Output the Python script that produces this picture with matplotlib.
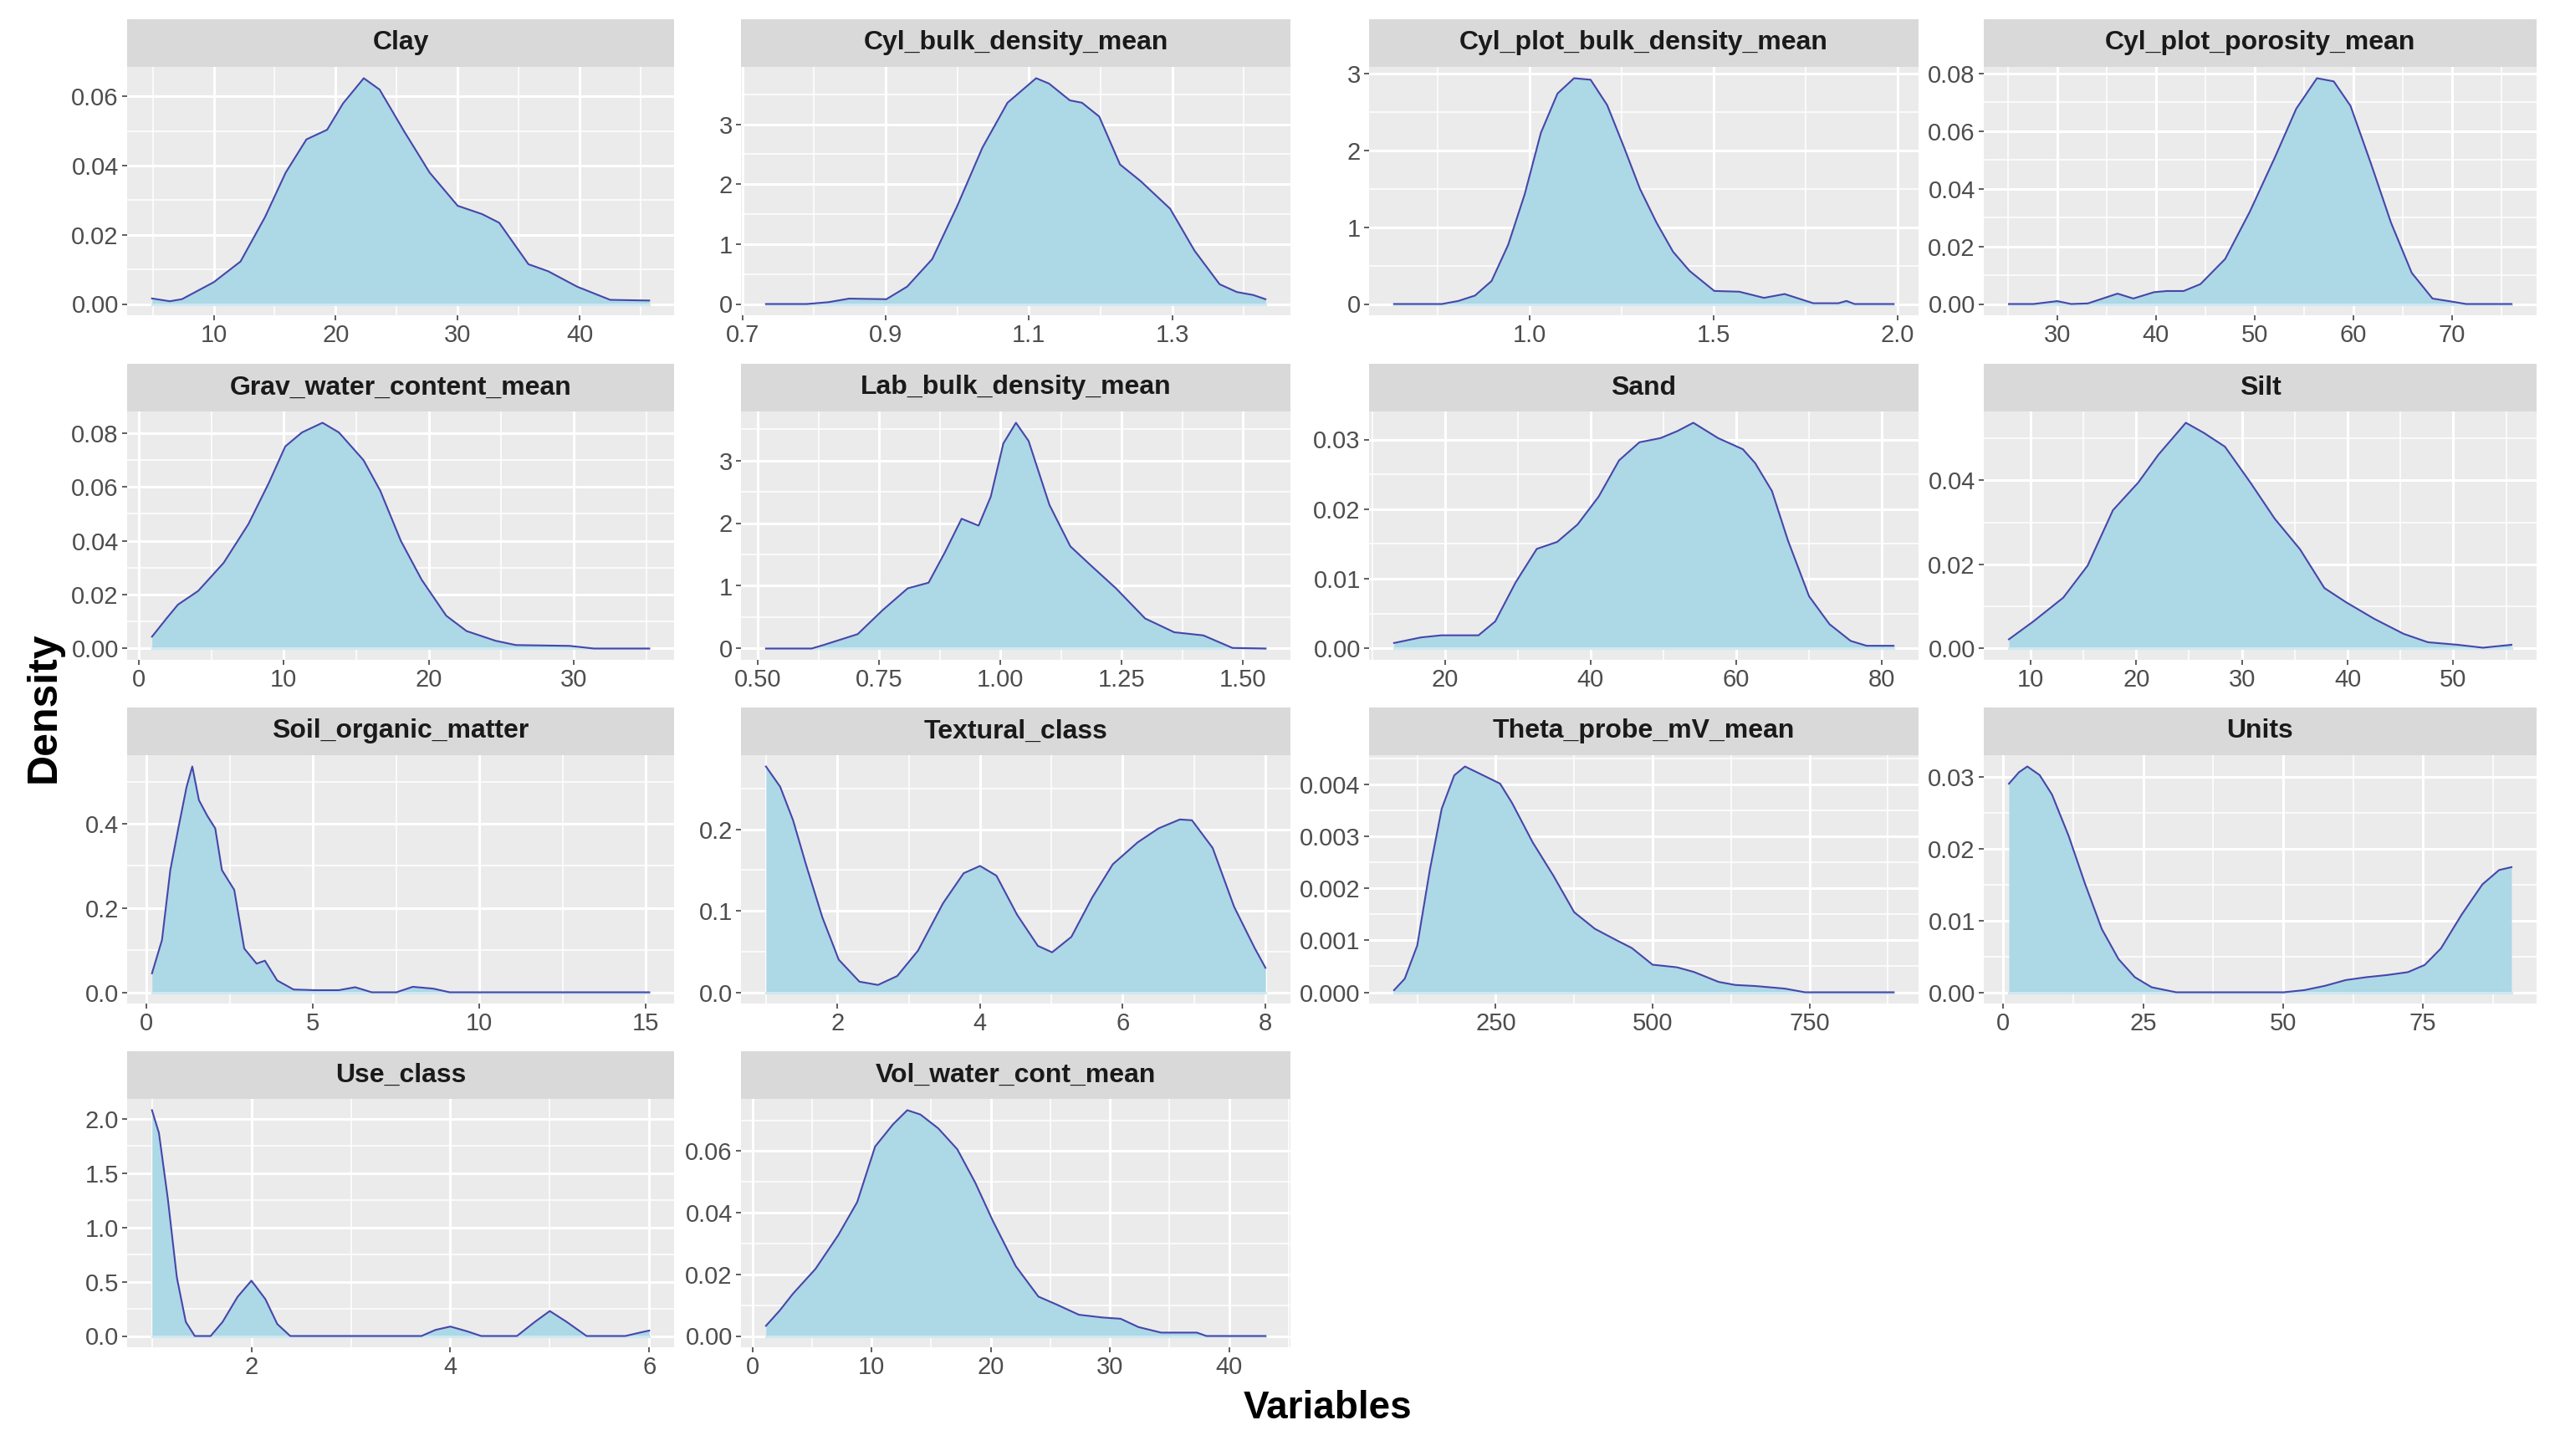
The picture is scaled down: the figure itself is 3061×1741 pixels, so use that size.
import numpy as np
import matplotlib.pyplot as plt

plt.rcParams['font.family'] = ['Liberation Sans', 'DejaVu Sans']

# --- density curves (x, density) ---
clay_x = [4.94, 6.4, 7.4, 10.0, 12.2, 14.2, 15.9, 17.6, 19.3, 20.6, 22.3, 23.6, 25.6, 27.7,
          30.0, 32.0, 33.4, 35.8, 37.4, 39.8, 42.5, 45.7]
clay_y = [0.0016, 0.0008, 0.0014, 0.0063, 0.0123, 0.0251, 0.038, 0.0476, 0.0504, 0.058, 0.0653,
          0.062, 0.050, 0.038, 0.0284, 0.026, 0.0235, 0.0115, 0.0095, 0.005, 0.0012, 0.001]

cylbd_x = [0.733, 0.79, 0.82, 0.849, 0.901, 0.930, 0.965, 1.0, 1.035, 1.07, 1.110, 1.128, 1.157,
           1.174, 1.198, 1.227, 1.256, 1.297, 1.331, 1.366, 1.39, 1.413, 1.430]
cylbd_y = [0.0, 0.0, 0.03, 0.09, 0.08, 0.29, 0.75, 1.64, 2.61, 3.36, 3.77, 3.68, 3.40, 3.36, 3.13,
           2.33, 2.05, 1.59, 0.89, 0.33, 0.20, 0.15, 0.08]

cylpbd_x = [0.632, 0.762, 0.807, 0.852, 0.897, 0.942, 0.987, 1.031, 1.076, 1.121, 1.166, 1.211,
            1.256, 1.300, 1.345, 1.390, 1.435, 1.502, 1.570, 1.637, 1.693, 1.771, 1.839, 1.861,
            1.883, 1.989]
cylpbd_y = [0.0, 0.0, 0.04, 0.11, 0.30, 0.77, 1.43, 2.23, 2.74, 2.94, 2.92, 2.59, 2.05, 1.50,
            1.06, 0.68, 0.43, 0.17, 0.16, 0.08, 0.13, 0.01, 0.01, 0.04, 0.0, 0.0]

poro_x = [25.1, 27.6, 30.0, 31.4, 33.1, 36.1, 37.7, 39.8, 41.1, 42.8, 44.5, 47.0, 49.5, 52.1,
          54.2, 56.3, 58.0, 59.7, 61.8, 63.8, 65.9, 68.0, 70.2, 71.4, 76.0]
poro_y = [0.0, 0.0, 0.001, 0.0, 0.0002, 0.0036, 0.0019, 0.0041, 0.0045, 0.0045, 0.0069, 0.0156,
          0.032, 0.0513, 0.0677, 0.0783, 0.0772, 0.0687, 0.0484, 0.0282, 0.0108, 0.0019, 0.0007,
          0.0, 0.0]

grav_x = [0.91, 1.9, 2.7, 4.1, 5.85, 7.56, 8.98, 10.1, 11.25, 12.67, 13.8, 15.5, 16.65, 18.07,
          19.5, 21.2, 22.6, 24.6, 26.0, 29.7, 31.4, 33.7, 35.2]
grav_y = [0.0044, 0.0111, 0.0163, 0.0214, 0.0318, 0.0462, 0.0616, 0.0750, 0.0802, 0.0838, 0.0802,
          0.0699, 0.0586, 0.040, 0.0256, 0.0122, 0.0065, 0.0029, 0.0013, 0.0010, 0.0, 0.0, 0.0]

lab_x = [0.517, 0.611, 0.637, 0.706, 0.757, 0.809, 0.852, 0.886, 0.920, 0.955, 0.98, 1.006,
         1.032, 1.058, 1.101, 1.144, 1.187, 1.238, 1.298, 1.358, 1.418, 1.478, 1.546]
lab_y = [0.0, 0.0, 0.06, 0.23, 0.61, 0.96, 1.05, 1.54, 2.07, 1.96, 2.42, 3.27, 3.60, 3.31, 2.29,
         1.63, 1.32, 0.96, 0.48, 0.26, 0.21, 0.01, 0.0]

sand_x = [13.0, 16.7, 19.5, 24.6, 26.9, 29.7, 32.6, 35.4, 38.2, 41.1, 43.9, 46.7, 49.6, 51.9,
          54.1, 57.5, 60.9, 62.6, 64.9, 67.1, 70.0, 72.8, 75.7, 77.9, 81.6]
sand_y = [0.0008, 0.0016, 0.0019, 0.0019, 0.0039, 0.0095, 0.0143, 0.0153, 0.0178, 0.0218, 0.027,
          0.0296, 0.0302, 0.0312, 0.0324, 0.0302, 0.0286, 0.0266, 0.0226, 0.0155, 0.0075, 0.0035,
          0.0011, 0.0004, 0.0004]

silt_x = [7.96, 10.3, 13.1, 15.4, 17.8, 20.2, 22.1, 24.7, 26.4, 28.4, 30.8, 33.1, 35.5, 37.8,
          39.8, 42.5, 45.3, 47.6, 50.4, 52.8, 55.5]
silt_y = [0.0022, 0.0065, 0.0121, 0.0197, 0.0329, 0.0395, 0.0461, 0.0537, 0.0513, 0.048, 0.0395,
          0.0309, 0.0236, 0.0144, 0.0111, 0.0071, 0.0035, 0.0015, 0.0009, 0.0002, 0.0009]

som_x = [0.17, 0.47, 0.72, 0.96, 1.21, 1.38, 1.58, 1.83, 2.07, 2.27, 2.64, 2.94, 3.31, 3.56, 3.93,
         4.42, 5.04, 5.78, 6.27, 6.77, 7.51, 8.0, 8.62, 9.11, 15.1]
som_y = [0.045, 0.124, 0.29, 0.389, 0.488, 0.536, 0.456, 0.419, 0.389, 0.29, 0.243, 0.104, 0.068,
         0.075, 0.028, 0.0066, 0.005, 0.005, 0.012, 0.0, 0.0, 0.013, 0.0086, 0.0, 0.0]

tex_x = [1.0, 1.2, 1.38, 1.56, 1.79, 2.02, 2.31, 2.57, 2.84, 3.13, 3.48, 3.77, 4.0, 4.23, 4.52,
         4.81, 5.01, 5.28, 5.57, 5.86, 6.21, 6.50, 6.80, 6.97, 7.26, 7.56, 7.85, 8.0]
tex_y = [0.277, 0.252, 0.211, 0.157, 0.092, 0.040, 0.013, 0.009, 0.020, 0.051, 0.109, 0.146,
         0.155, 0.143, 0.095, 0.057, 0.049, 0.068, 0.116, 0.157, 0.184, 0.201, 0.212, 0.211,
         0.177, 0.105, 0.054, 0.030]

theta_x = [88, 105, 125, 145, 164, 184, 201, 230, 257, 276, 309, 342, 375, 408, 441, 467, 500,
           539, 566, 605, 632, 664, 711, 743, 884]
theta_y = [0.00004, 0.00026, 0.0009, 0.00235, 0.00353, 0.00417, 0.00434, 0.00417, 0.00401,
           0.00364, 0.00288, 0.00224, 0.00154, 0.00122, 0.00101, 0.00085, 0.00053, 0.00048,
           0.00039, 0.0002, 0.00014, 0.00012, 0.00007, 0.0, 0.0]

units_x = [1.0, 2.8, 4.3, 6.5, 8.7, 11.7, 14.6, 17.6, 20.6, 23.5, 26.5, 30.9, 50.1, 53.8, 57.5,
           61.2, 64.9, 68.6, 72.3, 75.3, 78.2, 81.9, 85.6, 88.6, 90.8]
units_y = [0.029, 0.0306, 0.0314, 0.0302, 0.0275, 0.0217, 0.0151, 0.0088, 0.0046, 0.0021, 0.0007,
           0.0, 0.0, 0.0003, 0.0009, 0.0017, 0.0021, 0.0024, 0.0028, 0.0038, 0.0061, 0.0108,
           0.015, 0.017, 0.0174]

use_x = [1.0, 1.07, 1.16, 1.25, 1.34, 1.43, 1.59, 1.71, 1.86, 2.0, 2.14, 2.26, 2.39, 3.71, 3.85,
         4.0, 4.17, 4.31, 4.67, 4.85, 5.0, 5.17, 5.37, 5.76, 5.9, 6.0]
use_y = [2.08, 1.87, 1.26, 0.54, 0.13, 0.0, 0.0, 0.13, 0.36, 0.51, 0.34, 0.11, 0.0, 0.0, 0.056,
         0.087, 0.043, 0.0, 0.0, 0.13, 0.23, 0.13, 0.0, 0.0, 0.03, 0.05]

vol_x = [1.14, 2.3, 3.4, 5.3, 7.2, 8.8, 10.3, 11.8, 13.0, 14.1, 15.6, 17.2, 18.7, 20.2, 22.1,
         24.0, 25.6, 27.4, 29.4, 30.9, 32.4, 34.3, 37.3, 38.1, 43.06]
vol_y = [0.0033, 0.0083, 0.0137, 0.0218, 0.0327, 0.0435, 0.0615, 0.0687, 0.0733, 0.0719, 0.0674,
         0.0606, 0.0498, 0.0372, 0.0227, 0.0128, 0.0101, 0.0069, 0.006, 0.0056, 0.0029, 0.0011,
         0.0011, 0.0, 0.0]

titles = ["Clay", "Cyl_bulk_density_mean", "Cyl_plot_bulk_density_mean", "Cyl_plot_porosity_mean",
          "Grav_water_content_mean", "Lab_bulk_density_mean", "Sand", "Silt",
          "Soil_organic_matter", "Textural_class", "Theta_probe_mV_mean", "Units",
          "Use_class", "Vol_water_cont_mean"]
xs = [clay_x, cylbd_x, cylpbd_x, poro_x, grav_x, lab_x, sand_x, silt_x,
      som_x, tex_x, theta_x, units_x, use_x, vol_x]
ys = [clay_y, cylbd_y, cylpbd_y, poro_y, grav_y, lab_y, sand_y, silt_y,
      som_y, tex_y, theta_y, units_y, use_y, vol_y]

x_ticks = [[10, 20, 30, 40], [0.7, 0.9, 1.1, 1.3], [1.0, 1.5, 2.0], [30, 40, 50, 60, 70],
           [0, 10, 20, 30], [0.50, 0.75, 1.00, 1.25, 1.50], [20, 40, 60, 80], [10, 20, 30, 40, 50],
           [0, 5, 10, 15], [2, 4, 6, 8], [250, 500, 750], [0, 25, 50, 75],
           [2, 4, 6], [0, 10, 20, 30, 40]]
x_labels = [["10", "20", "30", "40"], ["0.7", "0.9", "1.1", "1.3"], ["1.0", "1.5", "2.0"],
            ["30", "40", "50", "60", "70"], ["0", "10", "20", "30"],
            ["0.50", "0.75", "1.00", "1.25", "1.50"], ["20", "40", "60", "80"],
            ["10", "20", "30", "40", "50"], ["0", "5", "10", "15"], ["2", "4", "6", "8"],
            ["250", "500", "750"], ["0", "25", "50", "75"], ["2", "4", "6"],
            ["0", "10", "20", "30", "40"]]
y_ticks = [[0, 0.02, 0.04, 0.06], [0, 1, 2, 3], [0, 1, 2, 3], [0, 0.02, 0.04, 0.06, 0.08],
           [0, 0.02, 0.04, 0.06, 0.08], [0, 1, 2, 3], [0, 0.01, 0.02, 0.03], [0, 0.02, 0.04],
           [0, 0.2, 0.4], [0, 0.1, 0.2], [0, 0.001, 0.002, 0.003, 0.004], [0, 0.01, 0.02, 0.03],
           [0, 0.5, 1.0, 1.5, 2.0], [0, 0.02, 0.04, 0.06]]
y_labels = [["0.00", "0.02", "0.04", "0.06"], ["0", "1", "2", "3"], ["0", "1", "2", "3"],
            ["0.00", "0.02", "0.04", "0.06", "0.08"], ["0.00", "0.02", "0.04", "0.06", "0.08"],
            ["0", "1", "2", "3"], ["0.00", "0.01", "0.02", "0.03"], ["0.00", "0.02", "0.04"],
            ["0.0", "0.2", "0.4"], ["0.0", "0.1", "0.2"],
            ["0.000", "0.001", "0.002", "0.003", "0.004"], ["0.00", "0.01", "0.02", "0.03"],
            ["0.0", "0.5", "1.0", "1.5", "2.0"], ["0.00", "0.02", "0.04", "0.06"]]

# layout in pixels of the 3061 x 1741 picture
W, H = 3061, 1741
col_px = [(152, 806), (886, 1543), (1637, 2294), (2372, 3033)]
row_top = [23, 435, 846, 1257]
STRIP_H = 57
PANEL_H = 297

fig = plt.figure(figsize=(W / 100, H / 100), dpi=100)


def minor_of(t):
    t = np.asarray(t, float)
    step = t[1] - t[0]
    ext = np.concatenate([[t[0] - step], t, [t[-1] + step]])
    return (ext[:-1] + ext[1:]) / 2


for i, title in enumerate(titles):
    r, c = divmod(i, 4)
    x0, x1 = col_px[c]
    top = row_top[r]
    left = x0 / W
    width = (x1 - x0) / W

    # strip
    sax = fig.add_axes([left, 1 - (top + STRIP_H) / H, width, STRIP_H / H])
    sax.set_facecolor('#D9D9D9')
    sax.set_xticks([])
    sax.set_yticks([])
    for s in sax.spines.values():
        s.set_visible(False)
    sax.text(0.5, 0.5, title, ha='center', va='center', fontsize=23,
             fontweight='bold', color='#1A1A1A', transform=sax.transAxes)

    # panel
    ax = fig.add_axes([left, 1 - (top + STRIP_H + PANEL_H) / H, width, PANEL_H / H])
    ax.set_facecolor('#EBEBEB')
    for s in ax.spines.values():
        s.set_visible(False)

    x = np.array(xs[i])
    y = np.array(ys[i])
    ax.fill_between(x, 0, y, color='#ADD8E6', lw=0, zorder=2)
    ax.plot([x[0], x[-1]], [0, 0], color='#CFE8F1', lw=2.2, zorder=3)
    ax.plot(x, y, color='#4646AA', lw=1.5, zorder=4)

    ax.set_xticks(x_ticks[i])
    ax.set_xticklabels(x_labels[i])
    ax.set_yticks(y_ticks[i])
    ax.set_yticklabels(y_labels[i])
    ax.set_xticks(minor_of(x_ticks[i]), minor=True)
    ax.set_yticks(minor_of(y_ticks[i]), minor=True)

    # ggplot-style 5% expansion, set after the ticks so they do not widen it
    xr = x.max() - x.min()
    ax.set_xlim(x.min() - 0.05 * xr, x.max() + 0.05 * xr)
    ylo = min(0, y.min())
    yr = y.max() - ylo
    ax.set_ylim(ylo - 0.05 * yr, y.max() + 0.05 * yr)

    ax.set_axisbelow(True)
    ax.grid(which='major', color='white', lw=2.2)
    ax.grid(which='minor', color='white', lw=1.1)
    ax.tick_params(which='major', length=4.3, width=1.1, color='#333333',
                   labelsize=21, labelcolor='#4D4D4D', pad=3)
    ax.tick_params(which='minor', length=0)

fig.text(53 / W, 1 - 846 / H, "Density", rotation=90, ha='center', va='center',
         fontsize=36, fontweight='bold', color='black')
fig.text(1588 / W, 1 - 1684 / H, "Variables", ha='center', va='center',
         fontsize=33, fontweight='bold', color='black')

fig.savefig("out.png", dpi=100)
